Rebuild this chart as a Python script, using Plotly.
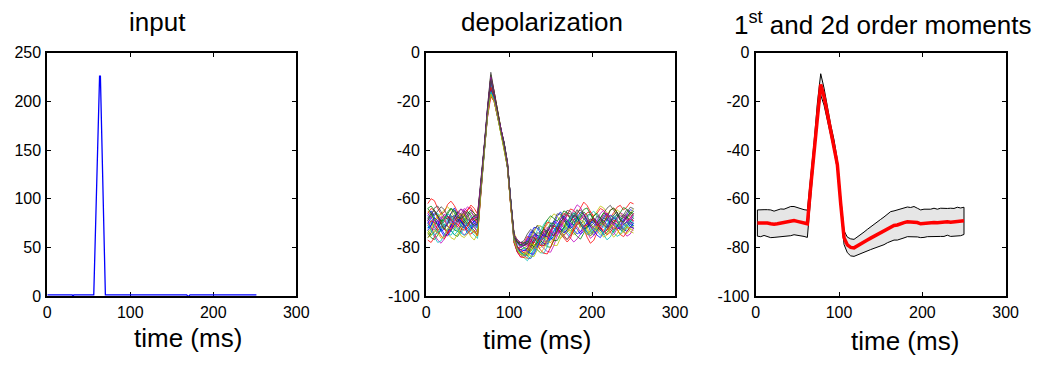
import plotly.graph_objects as go

# ---------------- data ----------------
# input current pulse (time in ms, amplitude)
input_t = [0, 30, 31, 32, 56, 63, 64, 70, 168, 170, 172, 252]
input_v = [1.2, 1.2, -0.6, 1.2, 1.2, 226, 226, 1.2, 1.2, -0.6, 1.2, 1.2]

# sampling times of the membrane potential traces (ms)
trace_t = list(range(2, 251, 4))

# mean membrane potential (mV)
mean_v = [
    -70.0, -70.0, -69.8, -70.0, -70.3, -70.5, -70.3, -70.0, -69.8, -69.5,
    -69.2, -69.0, -69.3, -69.6, -70.0, -70.3, -55.0, -40.0, -24.5, -13.0,
    -18.0, -25.0, -32.0, -38.0, -46.0, -62.0, -76.0, -79.0, -80.0, -80.2,
    -79.5, -78.6, -77.8, -77.0, -76.2, -75.4, -74.7, -74.0, -73.2, -72.2,
    -71.4, -71.0, -70.8, -70.2, -69.8, -69.5, -69.6, -69.4, -69.8, -70.3,
    -70.1, -70.0, -70.0, -69.8, -69.9, -69.7, -69.8, -69.5, -69.7, -69.6,
    -69.4, -69.5, -69.1,
]

# standard deviation across trials (mV)
std_v = [
    5.4, 5.6, 5.3, 5.5, 5.7, 5.4, 5.6, 5.8, 5.5, 5.9,
    6.0, 5.8, 5.6, 5.7, 5.5, 5.6, 3.5, 3.2, 3.8, 4.4,
    3.5, 2.8, 2.4, 2.2, 2.0, 2.5, 2.8, 3.2, 3.5, 3.5,
    3.7, 3.9, 4.1, 4.4, 4.7, 5.0, 5.3, 5.5, 5.7, 5.9,
    6.1, 6.0, 6.2, 6.3, 6.3, 6.1, 6.0, 6.2, 5.9, 5.7,
    5.8, 5.6, 5.7, 5.9, 5.6, 5.8, 5.7, 5.5, 5.8, 5.6,
    5.9, 5.7, 5.6,
]

# per-trial deviation from the mean (mV)
trial_dev = [
    [3,5,2,-1,-3,-2,1,4,6,3,0,-2,-4,-2,1,0, 1,1,1,2,1,0,0,1,0,-1,1,2,2,1,
     3,5,4,1,-2,-4,-3,0,3,5,6,3,0,-2,-1,2,4,3,0,-3,-5,-3,0,2,4,2,-1,-3,-2,1,3,5,4],
    [-4,-6,-7,-5,-2,0,-1,-3,-5,-6,-4,-1,1,0,-2,-3, -1,-1,0,-2,-1,-1,0,0,-1,-1,-2,-3,-3,-2,
     -4,-2,0,1,-1,-3,-5,-6,-4,-1,2,3,1,-2,-4,-6,-7,-5,-2,0,1,-1,-3,-5,-4,-2,0,-1,-3,-4,-2,0,-1],
    [8,10,9,6,4,5,8,9,7,4,2,3,5,6,4,2, 1,0,1,3,1,1,0,0,0,1,0,-1,0,1,
     1,-1,-3,-2,0,2,1,-1,-2,0,3,5,4,2,1,3,6,8,7,5,3,4,6,5,3,2,4,6,7,5,6,8,7],
    [-2,0,3,4,2,-1,-4,-5,-3,0,2,1,-2,-4,-5,-6, -1,0,-1,-3,0,0,-1,-1,0,0,-1,-2,-2,-3,
     -3,-1,2,4,5,3,0,-2,-3,-1,1,0,-3,-5,-4,-1,2,3,1,-2,-4,-3,0,2,1,-1,-4,-6,-5,-2,0,-1,-3],
    [1,-2,-5,-7,-8,-6,-3,-1,0,-2,-4,-6,-5,-3,-1,-4, -2,-1,-2,-4,-2,-1,-1,0,-1,-1,-2,-3,-4,-3,
     -5,-6,-4,-2,-3,-5,-7,-8,-6,-3,-1,-2,-4,-6,-8,-7,-5,-3,-4,-6,-5,-3,-1,0,-2,-4,-5,-3,-2,-4,-6,-5,-3],
    [5,3,1,2,4,6,7,5,2,0,1,3,2,0,-1,1, 0,1,2,4,2,1,1,0,1,1,2,2,1,0,
     0,2,4,6,5,3,4,6,7,5,2,0,-1,1,3,2,0,-2,-1,1,3,5,7,6,4,2,3,5,4,2,1,3,5],
    [-6,-4,-1,1,0,-2,-3,-1,2,4,5,3,0,-2,-3,-5, -1,-1,0,-2,-1,0,0,-1,0,0,-1,-1,-2,-3,
     -2,0,1,-1,-3,-2,1,3,2,0,-2,-4,-3,-1,1,2,0,-2,-4,-5,-3,-1,1,3,2,-1,-3,-2,0,2,1,-1,-2],
    [0,2,4,3,1,-1,0,2,3,1,-2,-3,-1,1,3,2, 2,1,1,3,1,0,1,1,0,0,1,1,0,1,
     2,4,6,5,2,0,1,3,4,2,-1,-3,-2,0,-1,-3,-5,-4,-1,1,0,-2,-3,-1,1,3,2,0,-1,1,2,0,-2],
    [-3,-5,-4,-2,1,3,2,-1,-3,-4,-2,0,2,4,3,1, 0,-1,0,-1,0,0,0,-1,-1,0,0,-1,-1,0,
     -1,-3,-2,0,2,3,1,-2,-4,-5,-3,0,2,1,-1,0,2,4,3,0,-2,-3,-1,1,-1,-3,-4,-2,1,3,2,0,1],
    [4,6,5,2,0,1,3,2,-1,-2,0,2,5,7,6,4, 1,1,2,3,2,1,1,1,0,1,1,1,2,2,
     4,2,-1,-2,1,3,5,4,1,-1,0,2,4,6,5,3,1,2,4,5,2,-1,-2,0,3,5,6,4,1,-1,0,2,3],
    [-1,-3,-6,-8,-7,-4,-2,-3,-5,-4,-1,1,0,-2,-4,-3, -1,-2,-1,-3,-2,-1,-1,0,-1,-1,-1,-2,-3,-4,
     -6,-5,-3,-4,-6,-7,-5,-2,0,-1,-3,-5,-6,-4,-1,1,0,-2,-4,-3,-1,0,-2,-5,-7,-6,-3,-1,-2,-4,-3,-1,-2],
    [2,0,-2,-1,2,4,3,1,-1,0,3,5,4,2,0,-1, 0,0,1,2,1,0,0,0,0,0,0,1,1,2,
     3,1,0,2,1,-2,-3,-1,2,3,1,-1,0,3,5,7,6,3,1,-1,-3,-2,0,1,-1,-3,-1,2,4,3,1,-1,0],
    [-5,-3,0,2,1,-1,-4,-6,-7,-5,-3,-2,-4,-6,-7,-4, -2,-1,-1,-4,-2,-1,-1,-1,-1,-1,-2,-2,-3,-4,
     -5,-3,-1,-2,-4,-3,0,1,-1,-3,-5,-4,-2,-3,-5,-4,-1,0,-2,-4,-3,-1,1,0,-2,-4,-6,-5,-2,0,-2,-4,-5],
    [1,3,6,7,5,3,2,4,5,3,1,-1,-2,0,2,3, 1,2,2,5,2,1,1,1,1,1,1,1,2,3,
     5,6,4,2,0,-1,1,3,1,-1,1,4,6,5,2,0,-1,1,3,4,2,0,2,4,6,7,5,3,1,2,4,6,5],
    [-2,-1,1,0,-3,-5,-4,-1,1,2,0,-3,-5,-3,0,-2, 0,-1,0,1,0,0,0,-1,0,0,0,-1,-1,-1,
     -1,1,3,2,-1,-3,-4,-2,0,1,-1,-3,-2,1,3,2,-1,-3,-2,0,2,1,-2,-4,-3,0,2,1,-1,-3,-4,-2,-1],
    [6,4,1,-1,0,2,5,6,4,1,-1,0,3,5,4,3, 1,1,1,2,1,1,1,0,1,1,1,1,1,1,
     1,3,2,-1,-2,0,2,4,3,0,-2,-1,1,3,4,2,-1,-3,-2,1,3,4,2,0,2,5,6,4,1,0,2,4,3],
    [-7,-8,-6,-3,-1,-2,-4,-3,0,2,1,-2,-4,-5,-3,-5, -2,-1,-2,-5,-2,-1,-1,-1,-1,-1,-2,-3,-4,-4,
     -3,-1,0,-2,-5,-7,-8,-6,-3,-1,-2,-4,-6,-5,-2,0,-1,-3,-6,-8,-7,-4,-2,-3,-5,-4,-2,-3,-5,-6,-4,-2,-3],
    [3,1,-2,-4,-3,0,2,1,-2,-4,-5,-3,0,2,1,0, 1,0,0,1,0,0,0,0,0,0,1,0,1,0,
     -2,-4,-3,0,3,5,6,4,1,-1,-3,-2,1,3,2,0,-2,-1,2,4,5,3,0,-2,-3,-1,1,3,2,-1,-2,0,2],
    [0,-2,-3,-1,2,4,3,0,-2,-1,1,4,6,5,2,1, 0,1,1,2,1,0,0,1,1,0,0,1,0,1,
     2,0,-2,-3,-1,2,3,1,-2,-3,-1,2,4,3,1,-2,-4,-3,0,2,1,-1,1,3,4,2,-1,-3,-2,0,3,2,0],
    [-4,-2,1,3,4,2,-1,-3,-2,1,3,2,-1,-3,-4,-3, -1,0,-1,-2,-1,0,-1,0,0,-1,-1,-1,-2,-2,
     -3,-5,-6,-4,-1,0,-2,-4,-3,0,2,1,-2,-4,-3,-1,1,0,-3,-5,-4,-2,0,-1,-3,-2,0,1,-1,-4,-5,-3,-2],
    [2,4,3,5,7,6,3,1,2,4,3,0,-1,1,3,4, 2,1,2,4,2,1,1,1,1,1,1,2,2,2,
     1,-1,1,3,2,0,-1,1,4,6,5,2,0,1,3,5,3,1,0,2,1,-1,0,2,1,0,2,3,1,0,2,3,1],
    [-3,-1,2,1,-2,-4,-5,-3,-1,1,0,-2,-3,-1,1,-1, 0,-1,0,-2,-1,0,0,0,-1,0,-1,-1,-2,-1,
     -2,-4,-5,-3,0,1,-1,-3,-2,1,3,4,2,-1,-3,-5,-4,-2,0,-1,-3,-5,-6,-4,-1,1,0,-2,-3,-1,0,-2,-3],
    [6,7,5,3,1,2,4,6,5,2,1,2,4,3,1,2, 1,1,2,3,1,1,0,1,1,1,1,1,1,2,
     2,0,-2,-1,1,4,6,7,5,3,4,6,5,2,0,1,3,5,6,4,1,0,2,4,3,1,0,2,4,6,5,3,4],
    [-1,1,0,-3,-5,-6,-4,-2,0,-1,-3,-4,-2,1,2,0, 0,0,-1,-1,0,0,0,0,0,-1,0,-1,-1,-2,
     -1,1,2,0,-3,-4,-2,1,2,0,-3,-5,-7,-6,-3,-1,0,-2,-1,1,2,0,-2,-4,-3,-1,1,0,-2,-3,-1,1,0],
    [0,-3,-5,-4,-1,2,4,3,0,-3,-5,-6,-4,-2,-1,-2, -1,0,-1,-3,-1,-1,0,-1,0,0,-1,-2,-2,-3,
     -4,-6,-5,-2,0,-1,-3,-2,0,2,0,-2,-1,2,4,3,0,-3,-5,-4,-2,-3,-5,-4,-1,2,3,1,-2,-3,-1,1,-1],
    [4,2,0,1,3,2,-1,-2,1,3,5,4,1,0,2,3, 1,1,1,3,1,0,1,0,1,1,1,2,2,1,
     0,2,3,1,-1,0,2,1,-1,-2,0,3,2,0,-2,-1,1,3,2,-1,-2,1,4,5,3,0,-1,1,3,2,0,1,3],
    [-6,-5,-3,-4,-6,-5,-2,0,-1,-3,-6,-7,-5,-3,-4,-5, -2,-1,-1,-4,-2,-1,-1,-1,-1,-1,-1,-2,-3,-3,
     -2,0,-1,-4,-6,-5,-3,-4,-6,-7,-5,-2,-1,-3,-2,0,-2,-4,-5,-3,-1,-2,-4,-6,-5,-2,-1,-3,-5,-4,-2,-3,-4],
    [1,4,5,3,0,-2,0,3,2,0,2,4,3,0,-1,0, 0,1,1,2,1,1,0,0,0,1,0,1,1,1,
     1,3,5,6,3,1,2,0,-2,-1,2,3,5,4,2,4,5,3,1,-1,0,3,2,-1,-2,0,3,4,2,3,5,4,2],
]

# line colour order of the trial traces
trial_colors = ["#0000ff", "#008000", "#ff0000", "#00bfbf", "#bf00bf", "#bfbf00", "#404040"]

titles = ["input", "depolarization", "1<sup>st</sup> and 2d order moments"]
x_label = "time (ms)"

# tick values and their printed labels
x_tick_vals = [0, 100, 200, 300]
x_tick_text = ["0", "100", "200", "300"]
y1_tick_vals = [0, 50, 100, 150, 200, 250]
y1_tick_text = ["0", "50", "100", "150", "200", "250"]
y2_tick_vals = [-100, -80, -60, -40, -20, 0]
y2_tick_text = ["-100", "-80", "-60", "-40", "-20", "0"]

# ---------------- figure ----------------
W, H = 1058, 367
FONT = "Liberation Sans, Arial, Helvetica, sans-serif"

fig = go.Figure()

# panel 1: input pulse
fig.add_trace(go.Scatter(x=input_t, y=input_v, mode="lines",
                         line=dict(color="#0000ff", width=1.3),
                         xaxis="x", yaxis="y", showlegend=False))

# panel 2: individual trials
for k, dev in enumerate(trial_dev):
    trial = [m + d for m, d in zip(mean_v, dev)]
    fig.add_trace(go.Scatter(x=trace_t, y=trial, mode="lines",
                             line=dict(color=trial_colors[k % len(trial_colors)], width=0.9),
                             opacity=0.85, xaxis="x2", yaxis="y2", showlegend=False))

# panel 3: mean +/- std band and mean
upper = [m + s for m, s in zip(mean_v, std_v)]
lower = [m - s for m, s in zip(mean_v, std_v)]
band_x = trace_t + trace_t[::-1] + [trace_t[0]]
band_y = upper + lower[::-1] + [upper[0]]
fig.add_trace(go.Scatter(x=band_x, y=band_y, mode="lines", fill="toself",
                         fillcolor="#e6e6e6", line=dict(color="black", width=1),
                         xaxis="x3", yaxis="y3", showlegend=False))
fig.add_trace(go.Scatter(x=trace_t, y=mean_v, mode="lines",
                         line=dict(color="#ff0000", width=3.5),
                         xaxis="x3", yaxis="y3", showlegend=False))


def px_x(p):
    return p / W


def px_y(p):
    return 1 - p / H


x_domains = [[44, 297], [429, 682], [764, 1018]]
y_domain = [px_y(302), px_y(47)]

axis_common = dict(showline=True, linecolor="black", linewidth=2, mirror="ticks",
                   ticks="inside", ticklen=4, tickwidth=1, tickcolor="black",
                   showgrid=False, zeroline=False,
                   tickfont=dict(family=FONT, size=16, color="black"),
                   ticklabelstandoff=1, layer="below traces")

layout = dict(width=W, height=H, margin=dict(l=0, r=0, t=0, b=0),
              paper_bgcolor="white", plot_bgcolor="white",
              font=dict(family=FONT, color="black"))

y_ranges = [[0, 250], [-100, 0], [-100, 0]]
y_vals = [y1_tick_vals, y2_tick_vals, y2_tick_vals]
y_text = [y1_tick_text, y2_tick_text, y2_tick_text]
for i in range(3):
    sfx = "" if i == 0 else str(i + 1)
    layout["xaxis" + sfx] = dict(axis_common,
                                 domain=[px_x(x_domains[i][0]), px_x(x_domains[i][1])],
                                 range=[0, 300], tickvals=x_tick_vals, ticktext=x_tick_text,
                                 anchor="y" + sfx)
    layout["yaxis" + sfx] = dict(axis_common, domain=y_domain,
                                 range=y_ranges[i], tickvals=y_vals[i], ticktext=y_text[i],
                                 anchor="x" + sfx)

fig.update_layout(**layout)

# panel titles and axis labels
title_pos = [(156, 15), (547, 15), (893, 16)]
label_pos = [(187, 346), (542, 348), (916, 349)]
for (tx, ty), text in zip(title_pos, titles):
    fig.add_annotation(x=px_x(tx), y=px_y(ty), xref="paper", yref="paper",
                       text=text, showarrow=False, xanchor="center", yanchor="middle",
                       font=dict(family=FONT, size=26, color="black"))
for (lx, ly) in label_pos:
    fig.add_annotation(x=px_x(lx), y=px_y(ly), xref="paper", yref="paper",
                       text=x_label, showarrow=False, xanchor="center", yanchor="middle",
                       font=dict(family=FONT, size=26, color="black"))

fig.write_html("out.html")
